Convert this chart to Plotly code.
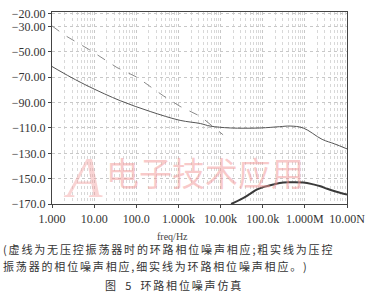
import plotly.graph_objects as go

# Data (frequency in Hz, phase noise in dBc/Hz)
loop_logf = [0.0, 0.45, 0.9, 1.62, 2.33, 3.04, 3.52, 3.75, 4.23, 4.94, 5.4, 5.65, 5.96, 6.41, 6.7, 7.0]
loop_val = [-61.5, -70.0, -77.7, -88.5, -97.0, -104.0, -106.5, -108.5, -110.0, -110.0, -109.0, -108.5, -110.0, -119.0, -122.5, -126.5]

novco_logf = [0.0, 0.31, 0.9, 1.54, 2.02, 2.64, 3.04, 3.52, 4.06]
novco_val = [-29.5, -37.0, -48.5, -62.3, -70.0, -84.6, -93.0, -100.8, -115.4]

vco_logf = [4.25, 4.5, 4.7, 4.87, 5.05, 5.25, 5.49, 5.65, 5.96, 6.2, 6.37, 6.53, 6.75, 7.0]
vco_val = [-170.0, -166.0, -162.0, -158.5, -156.3, -154.6, -153.0, -152.8, -153.0, -154.5, -156.0, -158.0, -160.3, -162.5]

x_tickvals = [1, 10, 100, 1e3, 1e4, 1e5, 1e6, 1e7]
x_ticktext = ["1.000", "10.00", "100.0", "1.000k", "10.00k", "100.0k", "1.000M", "10.00N"]
y_tickvals = [-20, -30, -50, -70, -90, -110, -130, -150, -170]
y_ticktext = ["\u221220.00", "\u221230.00", "\u221250.00", "\u221270.00", "\u221290.00",
              "\u2212110.0", "\u2212130.0", "\u2212150.0", "\u2212170.0"]

minor_vals = [m * 10 ** d for d in range(7) for m in range(2, 10)]

caption1 = "(虚线为无压控振荡器时的环路相位噪声相应;粗实线为压控"
caption2 = "振荡器的相位噪声相应,细实线为环路相位噪声相应。)"
title_txt = "图 5 环路相位噪声仿真"


def spaced(s, sep="\u2006"):
    return sep.join(ch if ch != " " else "\u2002" for ch in s)


fig = go.Figure()
fig.add_trace(go.Scatter(x=[10 ** v for v in novco_logf], y=novco_val, mode="lines",
                         line=dict(color="#8a8a8a", width=1, dash="dash"), showlegend=False))
fig.add_trace(go.Scatter(x=[10 ** v for v in loop_logf], y=loop_val, mode="lines",
                         line=dict(color="#555555", width=1, shape="spline"), showlegend=False))
fig.add_trace(go.Scatter(x=[10 ** v for v in vco_logf], y=vco_val, mode="lines",
                         line=dict(color="#3a3a3a", width=2, shape="spline"), showlegend=False))

serif = "Liberation Serif, Times New Roman, serif"
cjk = "Noto Sans CJK SC"

fig.update_layout(
    width=373, height=303,
    margin=dict(l=52, r=26, t=7, b=99),
    paper_bgcolor="white", plot_bgcolor="white",
    font=dict(family=serif, size=12, color="#333333"),
    xaxis=dict(type="log", range=[0, 7], tickmode="array", tickvals=x_tickvals, ticktext=x_ticktext,
               showline=True, linecolor="#444444", linewidth=1.2, mirror=True,
               ticks="outside", ticklen=3, tickcolor="#444444",
               showgrid=True, gridcolor="#c8c8c8", griddash="dot", gridwidth=1,
               minor=dict(tickmode="array", tickvals=minor_vals, showgrid=True,
                          gridcolor="#d8d8d8", griddash="dot", gridwidth=1),
               tickfont=dict(family=serif, size=12, color="#333333"), zeroline=False),
    yaxis=dict(range=[-170, -18.5], tickmode="array", tickvals=y_tickvals, ticktext=y_ticktext,
               showline=True, linecolor="#444444", linewidth=1.2, mirror=True,
               ticks="outside", ticklen=3, tickcolor="#444444",
               showgrid=True, gridcolor="#c8c8c8", griddash="dot", gridwidth=1,
               tickfont=dict(family=serif, size=12, color="#333333"), zeroline=False),
)

# watermark logo inside plot
fig.add_annotation(xref="paper", yref="paper", x=0.03, y=-0.04, text="<i>A</i>",
                   showarrow=False, font=dict(family=serif, size=58, color="rgba(242,160,160,0.45)"))
fig.add_annotation(xref="paper", yref="paper", x=0.52, y=0.03, text="电子技术应用",
                   showarrow=False, font=dict(family=cjk, size=33, color="rgba(242,150,150,0.5)"))

# axis title and caption
fig.add_annotation(xref="paper", yref="paper", x=0.41, y=-0.168, yanchor="middle", text="freq/Hz",
                   showarrow=False, font=dict(family=serif, size=10, color="#444444"))
fig.add_annotation(xref="paper", yref="paper", x=-0.172, y=-0.234, xanchor="left", yanchor="middle",
                   text=spaced(caption1), showarrow=False,
                   font=dict(family=cjk, size=11, color="#333333"))
fig.add_annotation(xref="paper", yref="paper", x=-0.172, y=-0.325, xanchor="left", yanchor="middle",
                   text=spaced(caption2), showarrow=False,
                   font=dict(family=cjk, size=11, color="#333333"))
fig.add_annotation(xref="paper", yref="paper", x=0.41, y=-0.421, yanchor="middle",
                   text=spaced(title_txt), showarrow=False,
                   font=dict(family=cjk, size=11, color="#333333"))

fig.write_html("out.html")
